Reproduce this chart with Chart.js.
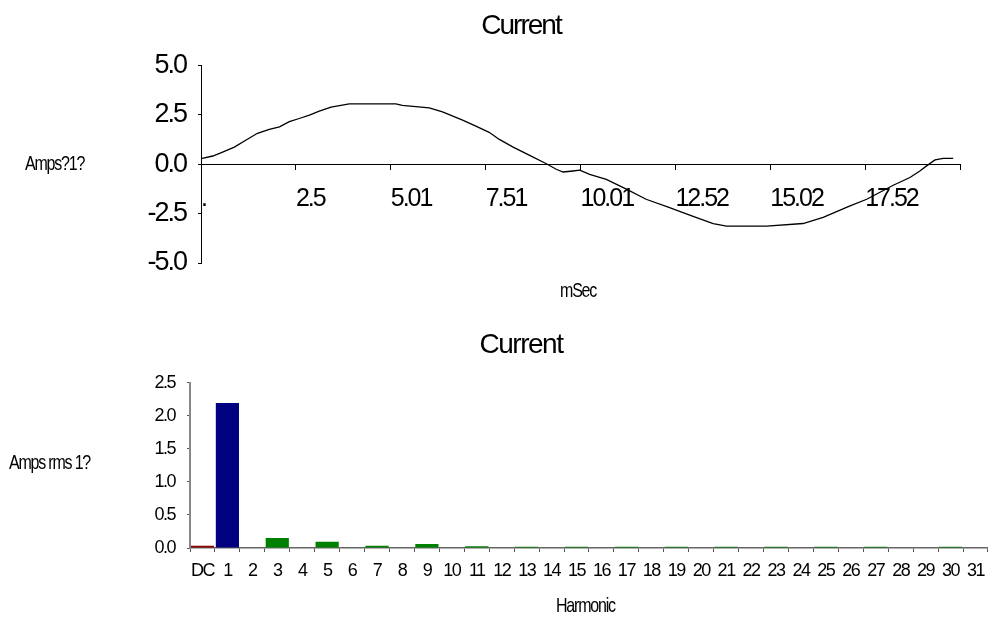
<!DOCTYPE html>
<html>
<head>
<meta charset="utf-8">
<script src="https://cdn.jsdelivr.net/npm/chart.js@4/dist/chart.umd.min.js"></script>
<style>
  html, body { margin: 0; padding: 0; background: #fff; }
  body { width: 992px; height: 619px; position: relative; overflow: hidden;
         font-family: 'Liberation Sans', Arial, sans-serif; }
  #c1 { position: absolute; left: 0; top: 0; }
  #c2 { position: absolute; left: 0; top: 300px; }
  .lbl { position: absolute; font-size: 16px; color: #000; white-space: nowrap; line-height: 1;
         letter-spacing: -1.2px; transform: scaleY(1.3); transform-origin: 0 50%; }
</style>
</head>
<body>
<canvas id="c1" width="992" height="300"></canvas>
<canvas id="c2" width="992" height="319"></canvas>
<div class="lbl" style="left:25px; top:155px;">Amps?1?</div>
<div class="lbl" style="left:560px; top:282px;">mSec</div>
<div class="lbl" style="left:9px; top:454px;">Amps rms 1?</div>
<div class="lbl" style="left:556px; top:598px;">Harmonic</div>
<script>
// ---------- Waveform data ----------
const waveTimeMs = [0, 0.31, 0.57, 0.88, 1.19, 1.49, 1.80, 2.07, 2.33, 2.59, 2.86, 3.12, 3.43, 3.91,
  5.14, 5.31, 6.02, 6.37, 6.90, 7.25, 7.60, 7.87, 8.22, 8.67, 9.11, 9.37, 9.55, 9.81, 9.99,
  10.25, 10.69, 11.22, 11.74, 12.36, 12.98, 13.51, 13.86, 14.92, 15.88, 16.41, 17.12, 17.56,
  18.26, 18.70, 18.96, 19.14, 19.36, 19.58, 19.84];
const waveAmps = [0.29, 0.42, 0.62, 0.87, 1.23, 1.57, 1.77, 1.90, 2.16, 2.32, 2.49, 2.69, 2.90, 3.06,
  3.06, 2.98, 2.86, 2.66, 2.24, 1.93, 1.62, 1.26, 0.88, 0.45, 0.03, -0.25, -0.39, -0.34, -0.30,
  -0.51, -0.76, -1.26, -1.77, -2.19, -2.64, -3.00, -3.13, -3.13, -3.00, -2.69, -2.11, -1.77,
  -1.06, -0.67, -0.34, -0.08, 0.22, 0.30, 0.30];
const waveXTickValues = [0, 2.5025, 5.005, 7.5075, 10.01, 12.5125, 15.015, 17.5175, 20.02];
const waveXTickLabels = ['.', '2.5', '5.01', '7.51', '10.01', '12.52', '15.02', '17.52', ''];
const waveYTickLabels = ['-5.0', '-2.5', '0.0', '2.5', '5.0'];

// ---------- Harmonic data ----------
const harmonicLabels = ['DC', '1', '2', '3', '4', '5', '6', '7', '8', '9', '10', '11', '12', '13', '14', '15',
  '16', '17', '18', '19', '20', '21', '22', '23', '24', '25', '26', '27', '28', '29', '30', '31'];
const harmonicAmps = [0.035, 2.19, 0, 0.15, 0, 0.095, 0, 0.035, 0, 0.06, 0, 0.025, 0, 0.018, 0, 0.018,
  0, 0.018, 0, 0.018, 0, 0.018, 0, 0.018, 0, 0.018, 0, 0.018, 0, 0, 0.018, 0];
const harmonicYTickLabels = ['0.0', '0.5', '1.0', '1.5', '2.0', '2.5'];

const FONT = "'Liberation Sans', Arial, sans-serif";
Chart.defaults.font.family = FONT;
Chart.defaults.color = '#000';

// condensed look: tighten letter spacing of canvas text
const tightText = (px) => ({
  id: 'tightText',
  beforeInit(chart) { chart.ctx.letterSpacing = px; },
  beforeLayout(chart) { chart.ctx.letterSpacing = px; },
  beforeDraw(chart) { chart.ctx.letterSpacing = px; }
});

// ---------- Top chart: waveform ----------
new Chart(document.getElementById('c1'), {
  type: 'line',
  data: {
    datasets: [{
      data: waveTimeMs.map((t, i) => ({ x: t, y: waveAmps[i] })),
      borderColor: '#000',
      borderWidth: 1.3,
      pointRadius: 0,
      tension: 0,
      fill: false
    }]
  },
  plugins: [tightText('-2px')],
  options: {
    responsive: false,
    animation: false,
    layout: { padding: { left: 82, right: 32, top: 0, bottom: 37 } },
    plugins: {
      legend: { display: false },
      tooltip: { enabled: false },
      title: {
        display: true, text: 'Current', color: '#000',
        font: { size: 28, weight: 'normal', family: FONT },
        padding: { top: 9, bottom: 23 }
      }
    },
    scales: {
      x: {
        type: 'linear', position: { y: 0 }, min: 0, max: 20.02,
        afterBuildTicks: s => { s.ticks = waveXTickValues.map(v => ({ value: v })); },
        ticks: {
          align: 'start', padding: 15, maxRotation: 0, autoSkip: false,
          font: { size: 25 },
          callback: (v, i) => waveXTickLabels[i]
        },
        grid: { drawOnChartArea: false, tickLength: 5, color: '#000' },
        border: { color: '#000', width: 1 }
      },
      y: {
        min: -5, max: 5,
        afterFit: s => { s.width = 119; },
        ticks: {
          stepSize: 2.5, padding: 12,
          font: { size: 27 },
          callback: (v, i) => waveYTickLabels[i]
        },
        grid: { drawOnChartArea: false, tickLength: 3, color: '#000' },
        border: { color: '#000', width: 1 }
      }
    }
  }
});

// ---------- Bottom chart: harmonics ----------
new Chart(document.getElementById('c2'), {
  type: 'bar',
  data: {
    labels: harmonicLabels,
    datasets: [{
      data: harmonicAmps,
      backgroundColor: ctx => ctx.dataIndex === 0 ? '#8b0000' : (ctx.dataIndex === 1 ? '#000080' : '#008000'),
      borderWidth: 0,
      barPercentage: 0.93,
      categoryPercentage: 1.0
    }]
  },
  plugins: [tightText('-1.5px')],
  options: {
    responsive: false,
    animation: false,
    layout: { padding: { left: 50, right: 0, top: 0, bottom: 0 } },
    plugins: {
      legend: { display: false },
      tooltip: { enabled: false },
      title: {
        display: true, text: 'Current', color: '#000',
        font: { size: 28, weight: 'normal', family: FONT },
        padding: { top: 28, bottom: 21 }
      }
    },
    scales: {
      x: {
        afterFit: s => { s.height = 71; },
        ticks: { padding: 8, maxRotation: 0, autoSkip: false, font: { size: 18 } },
        grid: { drawOnChartArea: false, tickLength: 4, color: '#555', offset: true },
        border: { color: '#666', width: 1.5 }
      },
      y: {
        min: 0, max: 2.5,
        afterFit: s => { s.width = 140; },
        ticks: {
          stepSize: 0.5, padding: 12, font: { size: 18 },
          callback: (v, i) => harmonicYTickLabels[i]
        },
        grid: { drawOnChartArea: false, tickLength: 3, color: '#555' },
        border: { color: '#888', width: 2 }
      }
    }
  }
});
</script>
</body>
</html>
